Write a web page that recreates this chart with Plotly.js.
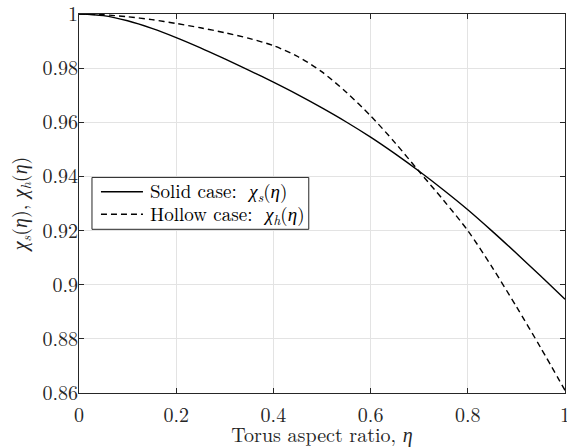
<!DOCTYPE html>
<html>
<head>
<meta charset="utf-8">
<script src="https://cdn.plot.ly/plotly-3.0.1.min.js"></script>
<style>
html,body{margin:0;padding:0;background:#fff;}
#chart{width:567px;height:448px;}
#chart text{font-family:'Latin Modern Roman','Liberation Serif',serif !important;}
</style>
</head>
<body>
<div id="chart"></div>
<script>
const eta = [0, 0.05, 0.1, 0.15, 0.2, 0.25, 0.3, 0.35, 0.4, 0.45, 0.5, 0.55, 0.6, 0.65, 0.7, 0.75, 0.8, 0.85, 0.9, 0.95, 1.0];
const chiSolid = [1.0, 0.9994, 0.9975, 0.9947, 0.9913, 0.9875, 0.9834, 0.9792, 0.9748, 0.9702, 0.9653, 0.9601, 0.9545, 0.9484, 0.9419, 0.9350, 0.9277, 0.9198, 0.9116, 0.9032, 0.8946];
const chiHollow = [1.0, 0.9997, 0.9990, 0.9979, 0.9965, 0.9949, 0.9931, 0.9910, 0.9883, 0.9843, 0.9786, 0.9711, 0.9624, 0.9525, 0.9418, 0.9312, 0.9200, 0.9065, 0.8919, 0.8767, 0.8610];
const seriesNames = ['Solid case:  <i>χ</i><sub><i>s</i></sub>(<i>η</i>)', 'Hollow case:  <i>χ</i><sub><i>h</i></sub>(<i>η</i>)'];
const xTicks = [0, 0.2, 0.4, 0.6, 0.8, 1];
const xTickText = ['0', '0.2', '0.4', '0.6', '0.8', '1'];
const yTicks = [0.86, 0.88, 0.9, 0.92, 0.94, 0.96, 0.98, 1];
const yTickText = ['0.86', '0.88', '0.9', '0.92', '0.94', '0.96', '0.98', '1'];

const FONT = 'Latin Modern Roman';
const dashes = ['solid', '6px,4px'];
const traces = [chiSolid, chiHollow].map((ys, i) => ({
  x: eta, y: ys, mode: 'lines', name: seriesNames[i],
  line: {color: '#000', width: 1.4, dash: dashes[i], shape: 'spline', smoothing: 0.8}
}));

// legend box (paper coordinates), drawn like MATLAB's legend
const box = {x0: 0.0267, x1: 0.4728, y0: 0.4319, y1: 0.5688};
const rowY = [0.5311, 0.4715];
const shapes = [{type: 'rect', xref: 'paper', yref: 'paper', x0: box.x0, x1: box.x1, y0: box.y0, y1: box.y1,
  fillcolor: '#fff', line: {color: '#262626', width: 1}, layer: 'above'}];
const annotations = [];
rowY.forEach((yy, i) => {
  shapes.push({type: 'line', xref: 'paper', yref: 'paper', x0: 0.0452, x1: 0.1316, y0: yy, y1: yy,
    line: {color: '#000', width: 1.4, dash: dashes[i]}, layer: 'above'});
  annotations.push({xref: 'paper', yref: 'paper', x: 0.1420, y: yy, xanchor: 'left', yanchor: 'middle',
    text: seriesNames[i], showarrow: false, font: {family: FONT, size: 19, color: '#000'}});
});

const axisCommon = {
  showline: true, linecolor: '#262626', linewidth: 1, mirror: 'ticks',
  ticks: 'inside', ticklen: 5, tickcolor: '#262626', tickwidth: 1,
  showgrid: true, gridcolor: '#e3e3e3', gridwidth: 1, zeroline: false,
  tickfont: {family: FONT, size: 20, color: '#262626'}, tickmode: 'array',
  ticklabeloverflow: 'allow'
};
const layout = {
  width: 567, height: 448,
  margin: {l: 79, r: 2, t: 14, b: 55},
  paper_bgcolor: '#fff', plot_bgcolor: '#fff',
  font: {family: FONT, size: 20, color: '#262626'},
  xaxis: Object.assign({}, axisCommon, {range: [0, 1], tickvals: xTicks, ticktext: xTickText,
    ticklabelstandoff: 4,
    title: {text: 'Torus aspect ratio, <i>η</i>', font: {family: FONT, size: 20, color: '#262626'}, standoff: 1}}),
  yaxis: Object.assign({}, axisCommon, {range: [0.86, 1], tickvals: yTicks, ticktext: yTickText,
    ticklabelstandoff: -4,
    title: {text: '<i>χ</i><sub><i>s</i></sub>(<i>η</i>), <i>χ</i><sub><i>h</i></sub>(<i>η</i>)', font: {family: FONT, size: 20, color: '#262626'}, standoff: 9}}),
  showlegend: false,
  shapes: shapes,
  annotations: annotations
};
Plotly.newPlot('chart', traces, layout, {staticPlot: true, displayModeBar: false});
</script>
</body>
</html>
